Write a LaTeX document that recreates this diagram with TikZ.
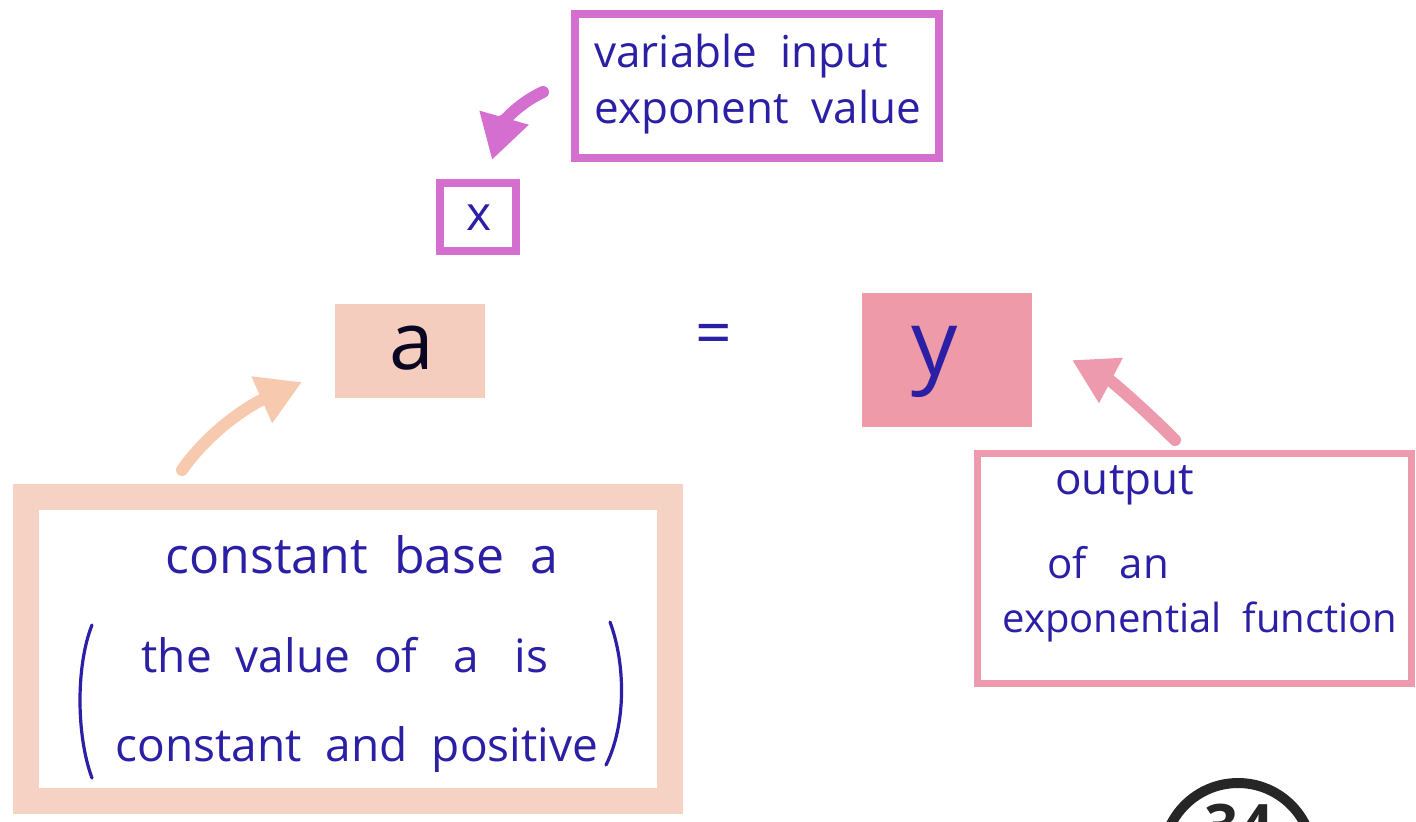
\documentclass[tikz,border=0pt]{standalone}
\usepackage{fontspec}
\setmainfont{Open Sans}
\usetikzlibrary{arrows.meta}
\definecolor{ink}{HTML}{2B1FA6}
\definecolor{mag}{HTML}{D46FCF}
\definecolor{peach}{HTML}{F6D2C4}
\definecolor{peachfill}{HTML}{F5CDBE}
\definecolor{rose}{HTML}{EE9AAE}
\definecolor{rosefill}{HTML}{EE9AA8}
\tikzset{
  lbl/.style={text=ink, inner sep=0pt},
  outlinebox/.style={draw, rectangle, inner sep=0pt, fill=none},
  fillbox/.style={rectangle, inner sep=0pt, draw=none},
  conn/.style={line width=6pt, line cap=round, -{Triangle[length=22pt,width=24pt]}},
  paren/.style={draw=ink, line width=1.6pt, line cap=round},
}
\begin{document}
\begin{tikzpicture}[x=0.5pt,y=-0.5pt]
\useasboundingbox[fill=white] (0,0) rectangle (1416,821);
% top box
\node[outlinebox, draw=mag, line width=4pt, minimum width=182pt, minimum height=72pt] (topbox) at (757,86) {};
\node[lbl, font=\fontsize{22}{26}\selectfont, anchor=west] (t1) at (594,56) {variable\ \ input};
\node[lbl, font=\fontsize{22}{26}\selectfont, anchor=west] (t2) at (594,112) {exponent\ \ value};
% x box
\node[outlinebox, draw=mag, line width=4pt, minimum width=38pt, minimum height=34pt] (xbox) at (478,217) {};
\node[lbl, font=\fontsize{24}{28}\selectfont] (xl) at (479,218) {x};
% a box
\node[fillbox, fill=peachfill, minimum width=75pt, minimum height=47pt] (abox) at (410,351) {};
\node[lbl, text=black!80!ink, font=\fontsize{40}{44}\selectfont] (al) at (412,348) {a};
% equals
\node[lbl, font=\fontsize{32}{36}\selectfont] (eq) at (714,340) {=};
% y box
\node[fillbox, fill=rosefill, minimum width=85pt, minimum height=67pt] (ybox) at (947,360) {};
\node[lbl, font=\fontsize{46}{50}\selectfont] (yl) at (935,362) {y};
% bottom-left box
\node[outlinebox, draw=peach, line width=13pt, minimum width=322pt, minimum height=152pt] (blbox) at (348,649) {};
\node[lbl, font=\fontsize{25}{30}\selectfont] (b1) at (362,555) {constant\ \ base\ \ a};
\node[lbl, font=\fontsize{23}{28}\selectfont] (b2) at (345,655) {the\ \ value\ \ of\ \ \ a\ \ \ is};
\node[lbl, font=\fontsize{23}{28}\selectfont] (b3) at (357,750) {constant\ \ and\ \ positive};
\draw[paren] (92,625) .. controls (76,665) and (76,735) .. (92,778);
\draw[paren] (610,622) .. controls (626,665) and (626,725) .. (606,765);
% bottom-right box
\node[outlinebox, draw=rose, line width=3.5pt, minimum width=217pt, minimum height=115pt] (brbox) at (1194,568) {};
\node[lbl, font=\fontsize{22}{26}\selectfont, anchor=west] (r1) at (1055,485) {output};
\node[lbl, font=\fontsize{21}{25}\selectfont, anchor=west] (r2) at (1047,563) {of\ \ \ an};
\node[lbl, font=\fontsize{20}{24}\selectfont, anchor=west] (r3) at (1002,622) {exponential\ \ function};
% page number
\node[circle, draw=black!85, line width=5pt, minimum size=75pt, inner sep=0pt] (pg) at (1238,858) {};
\node[lbl, text=black!85, font=\bfseries\fontsize{30}{36}\selectfont] (pgn) at (1239,826) {34};
% arrows
\coordinate (m0) at (543,92);
\coordinate (m1) at (492,160);
\draw[conn, mag] (m0) .. controls (515,105) and (502,125) .. (m1);
\coordinate (p0) at (182,470);
\coordinate (p1) at (302,382);
\draw[conn, peach!90!orange] (p0) .. controls (210,430) and (250,405) .. (p1);
\coordinate (q0) at (1175,440);
\coordinate (q1) at (1072,360);
\draw[conn, rose] (q0) .. controls (1140,405) and (1110,380) .. (q1);
\end{tikzpicture}
\end{document}
